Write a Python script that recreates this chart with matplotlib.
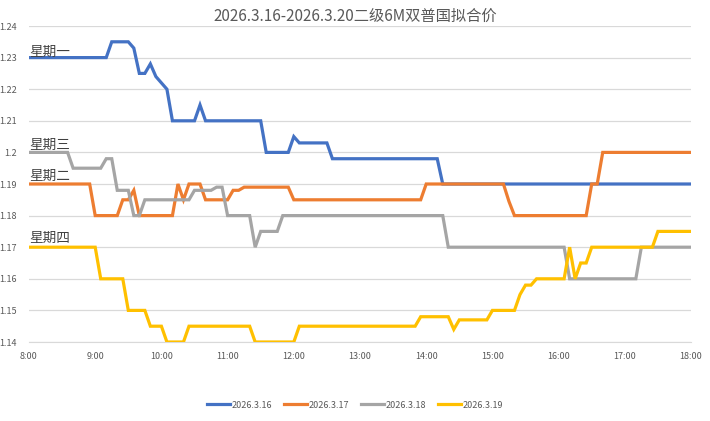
import matplotlib.pyplot as plt

plt.rcParams['font.family'] = ['Noto Sans CJK SC', 'DejaVu Sans']

# vertices of each day's curve (time, price)
t_16 = ['8:00', '9:10', '9:15', '9:30', '9:35', '9:40', '9:45', '9:50', '9:55', '10:00',
        '10:05', '10:10', '10:30', '10:35', '10:40', '11:30', '11:35', '11:55', '12:00',
        '12:05', '12:30', '12:35', '14:10', '14:15', '18:00']
v_16 = [1.230, 1.230, 1.235, 1.235, 1.233, 1.225, 1.225, 1.228, 1.224, 1.222,
        1.220, 1.210, 1.210, 1.215, 1.210, 1.210, 1.200, 1.200, 1.205,
        1.203, 1.203, 1.198, 1.198, 1.190, 1.190]

t_17 = ['8:00', '8:55', '9:00', '9:20', '9:25', '9:30', '9:35', '9:40', '10:10', '10:15',
        '10:20', '10:25', '10:35', '10:40', '11:00', '11:05', '11:10', '11:15', '11:55',
        '12:00', '13:55', '14:00', '15:10', '15:15', '15:20', '16:25', '16:30', '16:35',
        '16:40', '18:00']
v_17 = [1.190, 1.190, 1.180, 1.180, 1.185, 1.185, 1.188, 1.180, 1.180, 1.190,
        1.185, 1.190, 1.190, 1.185, 1.185, 1.188, 1.188, 1.189, 1.189,
        1.185, 1.185, 1.190, 1.190, 1.1845, 1.180, 1.180, 1.190, 1.190,
        1.200, 1.200]

t_18 = ['8:00', '8:35', '8:40', '9:05', '9:10', '9:15', '9:20', '9:30', '9:35', '9:40',
        '9:45', '10:25', '10:30', '10:45', '10:50', '10:55', '11:00', '11:20', '11:25',
        '11:30', '11:45', '11:50', '14:15', '14:20', '16:05', '16:10', '17:10', '17:15',
        '18:00']
v_18 = [1.200, 1.200, 1.195, 1.195, 1.198, 1.198, 1.188, 1.188, 1.180, 1.180,
        1.185, 1.185, 1.188, 1.188, 1.189, 1.189, 1.180, 1.180, 1.170,
        1.175, 1.175, 1.180, 1.180, 1.170, 1.170, 1.160, 1.160, 1.170,
        1.170]

t_19 = ['8:00', '9:00', '9:05', '9:25', '9:30', '9:45', '9:50', '10:00', '10:05', '10:20',
        '10:25', '11:20', '11:25', '12:00', '12:05', '13:50', '13:55', '14:20', '14:25',
        '14:30', '14:55', '15:00', '15:20', '15:25', '15:30', '15:35', '15:40', '16:05',
        '16:10', '16:15', '16:20', '16:25', '16:30', '17:25', '17:30', '18:00']
v_19 = [1.170, 1.170, 1.160, 1.160, 1.150, 1.150, 1.145, 1.145, 1.140, 1.140,
        1.145, 1.145, 1.140, 1.140, 1.145, 1.145, 1.148, 1.148, 1.144,
        1.147, 1.147, 1.150, 1.150, 1.155, 1.158, 1.158, 1.160, 1.160,
        1.170, 1.160, 1.165, 1.165, 1.170, 1.170, 1.175, 1.175]

series = [('2026.3.16', t_16, v_16, '#4472C4'),
          ('2026.3.17', t_17, v_17, '#ED7D31'),
          ('2026.3.18', t_18, v_18, '#A5A5A5'),
          ('2026.3.19', t_19, v_19, '#FFC000')]

day_labels = ['星期一', '星期三', '星期二', '星期四']
day_label_y = [1.2318, 1.2023, 1.1925, 1.1728]

hours = list(range(8, 19))
y_ticks = [1.14, 1.15, 1.16, 1.17, 1.18, 1.19, 1.2, 1.21, 1.22, 1.23, 1.24]


def to_hour(s):
    h, m = s.split(':')
    return int(h) + int(m) / 60


fig = plt.figure(figsize=(7.1, 4.21), dpi=100)
ax = fig.add_axes([29 / 710, 1 - 342 / 421, 662 / 710, 316 / 421])

for name, t, v, c in series:
    ax.plot([to_hour(s) for s in t], v, color=c, linewidth=2.3, label=name,
            solid_joinstyle='miter', zorder=3)

for txt, y in zip(day_labels, day_label_y):
    ax.text(8.0, y, txt, fontsize=9.8, color='#404040', va='center', ha='left', zorder=4)

ax.set_xlim(8, 18)
ax.set_ylim(1.14, 1.24)
ax.set_xticks(hours)
ax.set_xticklabels([f'{h}:00' for h in hours])
ax.set_yticks(y_ticks)
ax.set_yticklabels([f'{y:g}' for y in y_ticks])
ax.tick_params(length=0, labelsize=6.5, labelcolor='#595959')
ax.tick_params(axis='x', pad=7)
ax.tick_params(axis='y', pad=9)
ax.grid(axis='y', color='#D9D9D9', linewidth=0.9)
for side in ['top', 'right', 'left']:
    ax.spines[side].set_visible(False)
ax.spines['bottom'].set_color('#D9D9D9')

fig.text(355 / 710, 1 - 16 / 421, '2026.3.16-2026.3.20二级6M双普国拟合价', fontsize=11,
         color='#595959', ha='center', va='center')

fig.legend(loc='center', bbox_to_anchor=(355 / 710, 1 - 405 / 421), ncol=4, frameon=False,
           fontsize=6.5, labelcolor='#595959', handlelength=2.5, handletextpad=0.15,
           columnspacing=1.4)

plt.savefig('out.png', dpi=100)
